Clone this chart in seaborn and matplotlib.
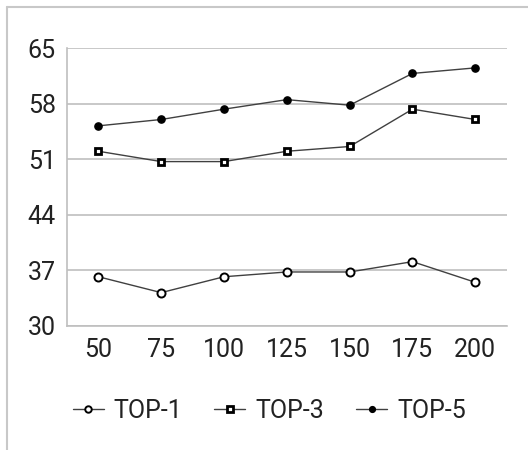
import matplotlib
matplotlib.use("Agg")
import matplotlib.pyplot as plt
import seaborn as sns
import pandas as pd

# ============================================================
# DATA
# ============================================================
thresholds = ["50", "75", "100", "125", "150", "175", "200"]
top1 = [36.2, 34.2, 36.2, 36.8, 36.8, 38.1, 35.5]
top3 = [52.0, 50.7, 50.7, 52.0, 52.6, 57.3, 56.0]
top5 = [55.2, 56.0, 57.3, 58.5, 57.8, 61.8, 62.5]
y_ticks = [30, 37, 44, 51, 58, 65]

series = {"TOP-1": top1, "TOP-3": top3, "TOP-5": top5}

# ============================================================
# STYLE
# ============================================================
sns.set_style("white")
plt.rcParams["font.family"] = ["Roboto", "DejaVu Sans"]
GRID = "#bfbfbf"
LINE = "#404040"

styles = {
    "TOP-1": dict(marker="o", markersize=5.8, markerfacecolor="white",
                  markeredgecolor="black", markeredgewidth=1.4),
    "TOP-3": dict(marker="s", markersize=4.6, markerfacecolor="white",
                  markeredgecolor="black", markeredgewidth=2.0),
    "TOP-5": dict(marker="o", markersize=5.2, markerfacecolor="black",
                  markeredgecolor="black", markeredgewidth=1),
}

# ============================================================
# CHART
# ============================================================
fig = plt.figure(figsize=(5.28, 4.5), dpi=100)
ax = fig.add_axes([0.1269, 0.2756, 0.9597 - 0.1269, 0.8933 - 0.2756])

for name, vals in series.items():
    df = pd.DataFrame({"threshold": thresholds, "value": vals})
    sns.lineplot(data=df, x="threshold", y="value", ax=ax, color=LINE,
                 linewidth=1, label=name, sort=False, **styles[name])

ax.set_xlim(-0.5, len(thresholds) - 0.5)
ax.set_ylim(30, 65)
ax.set_yticks(y_ticks)
ax.set_xlabel("")
ax.set_ylabel("")
ax.yaxis.grid(True, color=GRID, linewidth=1.2)
ax.set_axisbelow(True)
for s in ["top", "right"]:
    ax.spines[s].set_visible(False)
for s in ["left", "bottom"]:
    ax.spines[s].set_color(GRID)
    ax.spines[s].set_linewidth(1.2)
ax.tick_params(axis="both", length=0, labelsize=18, colors="#222222")
ax.tick_params(axis="y", pad=8)
ax.tick_params(axis="x", pad=9)

ax.get_legend().remove()
handles, labels = ax.get_legend_handles_labels()
fig.legend(handles, labels, ncol=3, loc="center", bbox_to_anchor=(0.51, 0.087),
           frameon=False, fontsize=18, markerscale=0.8, handlelength=1.24,
           handletextpad=0.4, columnspacing=1.28, labelcolor="#222222")

# outer frame
fig.add_artist(plt.Line2D([7 / 528, 1.0], [1 - 7 / 450, 1 - 7 / 450],
                          transform=fig.transFigure, color="#c8c8c8", linewidth=1.5))
fig.add_artist(plt.Line2D([7 / 528, 7 / 528], [0, 1 - 7 / 450],
                          transform=fig.transFigure, color="#c8c8c8", linewidth=1.5))

plt.savefig("out.png", dpi=100)
plt.close()
